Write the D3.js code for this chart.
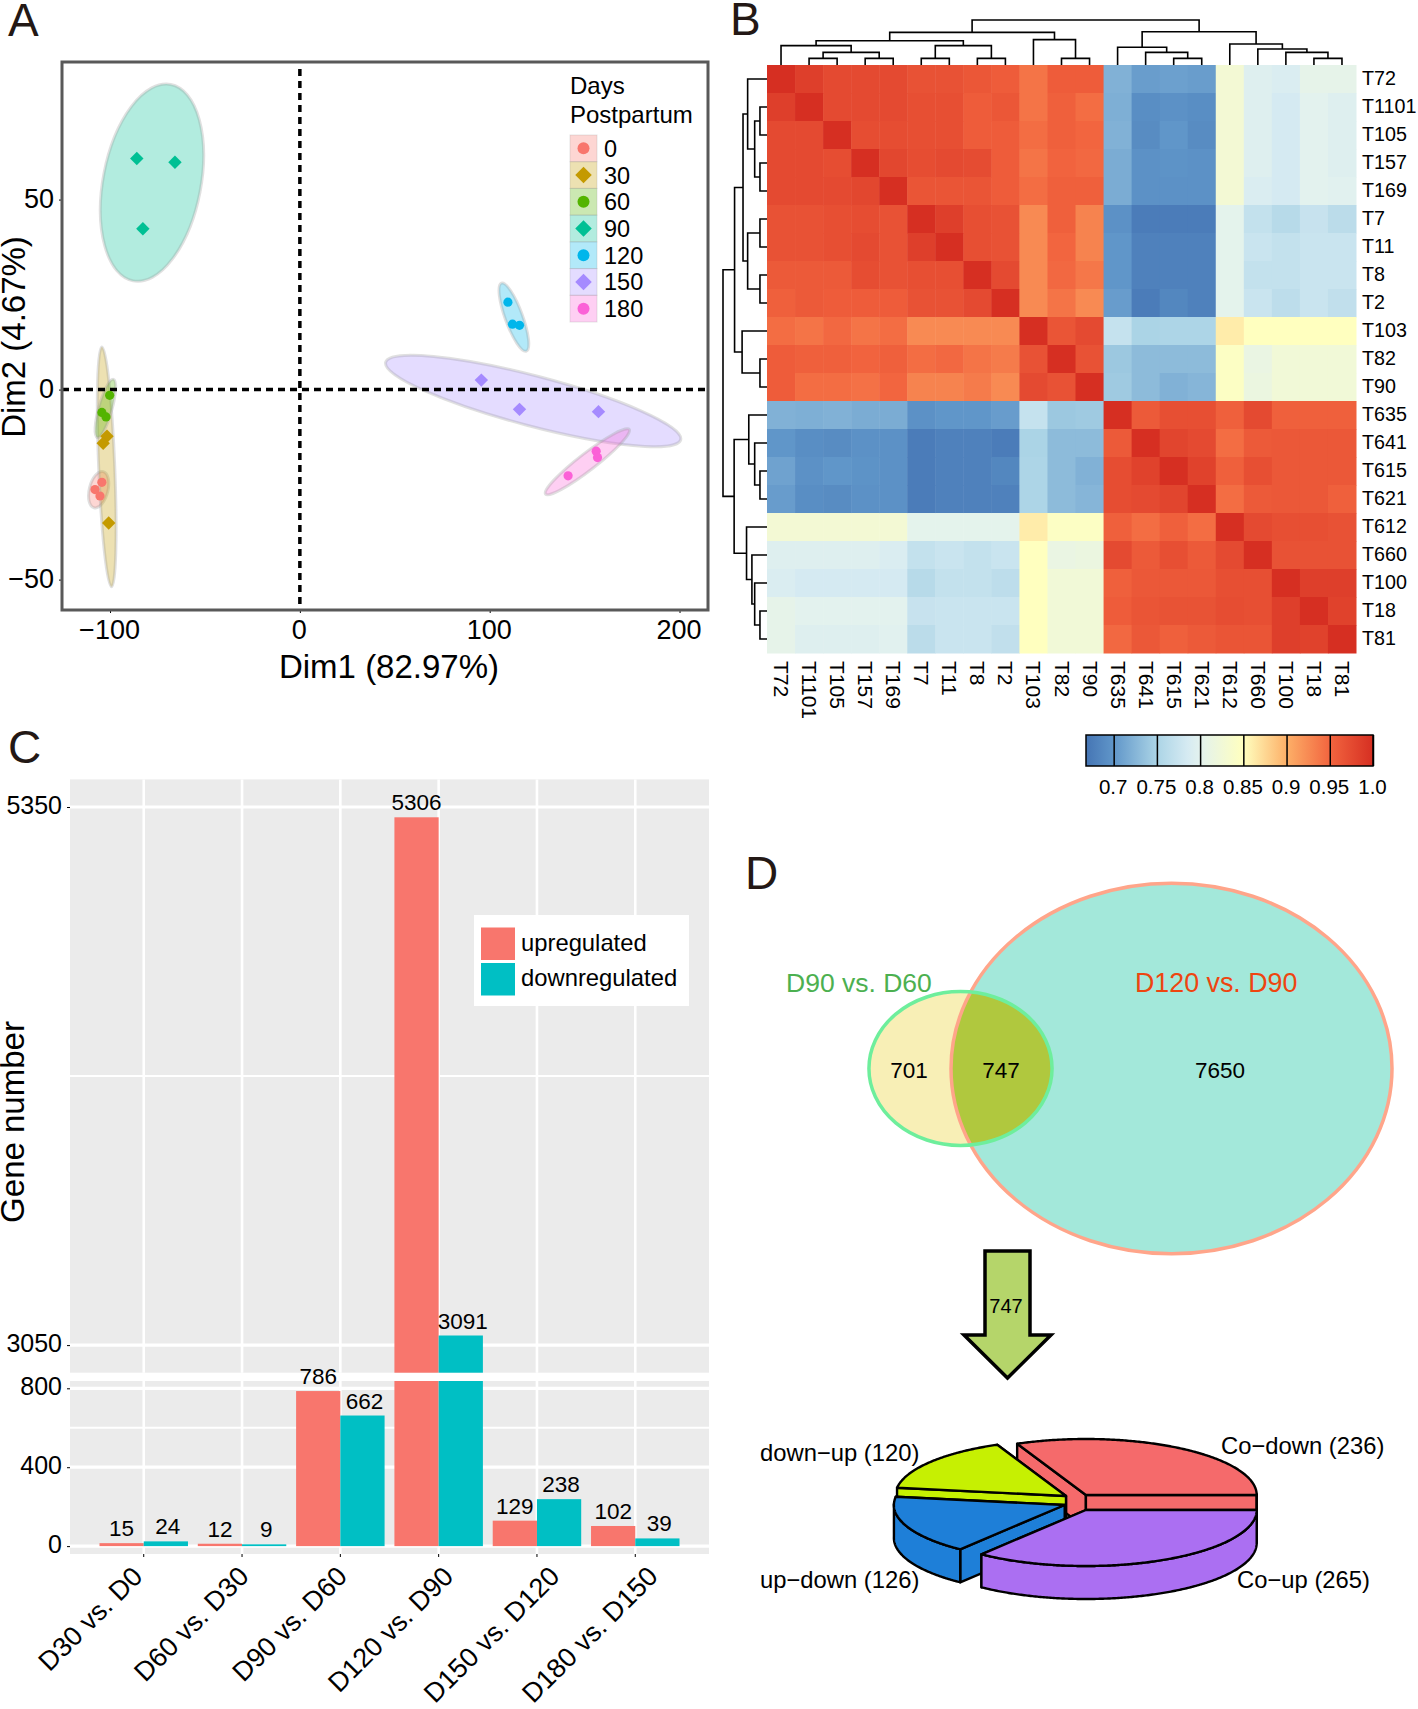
<!DOCTYPE html>
<html>
<head>
<meta charset="utf-8">
<title>Panels A-D</title>
<script src="https://cdn.jsdelivr.net/npm/d3@7"></script>
<style>
  body { margin: 0; background: #fff; }
  svg { display: block; font-family: "Liberation Sans", Arial, sans-serif; }
  text { fill: #000; }
  .domain { display: none; }
</style>
</head>
<body>
<svg id="fig" width="1418" height="1709"></svg>
<script>
// panel A
const dayGroups = ['0', '30', '60', '90', '120', '150', '180'];
const dayColors = ['#F8766D', '#C49A00', '#53B400', '#00C094', '#00B6EB', '#A58AFF', '#FB61D7'];
const dayShapes = ['circle', 'diamond', 'circle', 'diamond', 'circle', 'diamond', 'circle'];
const pcaDim1 = [
  [-104.3, -107.9, -105.3],
  [-101.6, -103.6, -100.7],
  [-100.2, -104.3, -102.1],
  [-85.9, -65.8, -82.7],
  [109.6, 112, 115.7],
  [95.6, 115.7, 157.3],
  [141.3, 156.1, 156.8]
];
const pcaDim2 = [
  [-24.4, -26.3, -28],
  [-12.3, -14.1, -35.1],
  [-1.5, -6, -7.2],
  [60.8, 59.8, 42.3],
  [23, 17.2, 16.9],
  [2.5, -5.2, -5.8],
  [-22.7, -16.2, -17.9]
];
// ellipse long axis ends, and short/long ratio
const ellipseDim1 = [[-103.6, -108.4], [-104.3, -99.2], [-98.2, -106.7], [-68, -87.8], [106.2, 119.3], [45.2, 200.6], [173.5, 129.4]];
const ellipseDim2 = [[-21.6, -31.1], [11.2, -51.9], [2.7, -12.6], [80.3, 28.6], [28, 10.1], [7.2, -13.2], [-10.5, -27.5]];
const ellipseRatio = [0.5, 0.067, 0.22, 0.489, 0.24, 0.164, 0.16];

// panel B
const samples = ['T72', 'T1101', 'T105', 'T157', 'T169', 'T7', 'T11', 'T8', 'T2', 'T103', 'T82', 'T90',
  'T635', 'T641', 'T615', 'T621', 'T612', 'T660', 'T100', 'T18', 'T81'];
const corr = [
  [1, .985, .975, .975, .975, .968, .968, .963, .958, .94, .958, .958, .722, .706, .708, .706, .828, .795, .79, .805, .805],
  [.985, 1, .975, .975, .975, .97, .97, .958, .963, .94, .955, .945, .72, .692, .695, .692, .828, .795, .785, .8, .795],
  [.975, .975, 1, .972, .972, .97, .97, .958, .958, .945, .955, .95, .722, .69, .7, .69, .828, .795, .785, .8, .795],
  [.975, .975, .972, 1, .978, .972, .975, .973, .958, .94, .952, .948, .718, .695, .697, .695, .828, .795, .785, .8, .795],
  [.975, .975, .975, .978, 1, .965, .965, .965, .958, .945, .955, .955, .718, .695, .695, .695, .828, .79, .785, .8, .798],
  [.968, .968, .97, .972, .968, 1, .985, .97, .968, .925, .955, .93, .695, .675, .675, .675, .802, .77, .76, .773, .763],
  [.968, .968, .97, .975, .968, .985, 1, .97, .968, .925, .95, .93, .7, .68, .68, .68, .802, .775, .77, .775, .775],
  [.96, .96, .96, .972, .968, .97, .97, 1, .975, .925, .948, .938, .7, .68, .68, .68, .802, .77, .77, .775, .775],
  [.955, .96, .958, .958, .958, .968, .968, .975, 1, .925, .94, .925, .705, .675, .685, .68, .802, .775, .765, .775, .768],
  [.945, .94, .948, .94, .945, .925, .925, .925, .925, 1, .965, .975, .772, .75, .752, .752, .862, .85, .85, .85, .85],
  [.958, .955, .955, .952, .955, .945, .948, .94, .935, .968, 1, .968, .74, .73, .73, .73, .845, .812, .825, .825, .825],
  [.958, .945, .945, .942, .95, .93, .93, .935, .925, .975, .968, 1, .742, .73, .722, .725, .845, .815, .825, .825, .825],
  [.722, .72, .722, .718, .718, .695, .7, .7, .705, .772, .74, .742, 1, .96, .97, .97, .955, .975, .955, .955, .955],
  [.7, .692, .69, .695, .695, .675, .68, .68, .675, .75, .73, .73, .96, 1, .98, .975, .945, .96, .962, .962, .962],
  [.71, .695, .7, .697, .695, .675, .68, .68, .685, .752, .73, .722, .972, .982, 1, .982, .955, .97, .962, .962, .962],
  [.705, .692, .69, .695, .695, .675, .68, .68, .68, .752, .73, .725, .972, .975, .98, 1, .945, .96, .962, .962, .955],
  [.828, .828, .828, .828, .828, .802, .802, .802, .802, .862, .845, .845, .955, .945, .955, .945, 1, .975, .97, .97, .968],
  [.795, .795, .795, .795, .79, .77, .775, .77, .775, .85, .812, .815, .975, .96, .97, .96, .975, 1, .968, .968, .968],
  [.79, .785, .785, .785, .785, .76, .77, .77, .765, .85, .825, .825, .955, .962, .962, .962, .97, .97, 1, .985, .985],
  [.805, .8, .8, .8, .8, .773, .775, .775, .775, .85, .825, .825, .958, .965, .967, .967, .972, .97, .985, 1, .982],
  [.805, .795, .795, .795, .798, .763, .775, .775, .768, .85, .825, .825, .948, .962, .955, .96, .965, .965, .985, .982, 1]
];
// dendrograms: [height, left, right]
const colTree = [1,
  [.726,
    [.54,
      [.43, 'T72', [.281, [.148, 'T1101', 'T105'], [.148, 'T157', 'T169']]],
      [.43, [.148, 'T7', 'T11'], [.148, 'T8', 'T2']]],
    [.563, 'T103', [.148, 'T82', 'T90']]],
  [.74,
    [.393, 'T635', [.281, 'T641', [.148, 'T615', 'T621']]],
    [.467, 'T612', [.356, 'T660', [.281, 'T100', [.148, 'T18', 'T81']]]]]];
const rowTree = [1,
  [.737,
    [.545,
      [.44, 'T72', [.28, [.16, 'T1101', 'T105'], [.16, 'T157', 'T169']]],
      [.44, [.16, 'T7', 'T11'], [.16, 'T8', 'T2']]],
    [.566, 'T103', [.16, 'T82', 'T90']]],
  [.747,
    [.414, 'T635', [.28, 'T641', [.16, 'T615', 'T621']]],
    [.465, 'T612', [.343, 'T660', [.28, 'T100', [.16, 'T18', 'T81']]]]]];
const heatBreaks = [0.668, 0.7, 0.75, 0.785, 0.8, 0.85, 0.9, 0.95, 1];
const heatColors = ['#4575B4', '#6096C9', '#ABD4E6', '#D5EAF2', '#E3F2EE', '#FFFFBF', '#FDB068', '#F2653F', '#D62F22'];
const heatTicks = [0.7, 0.75, 0.8, 0.85, 0.9, 0.95, 1];
const heatTickLabels = ['0.7', '0.75', '0.8', '0.85', '0.9', '0.95', '1.0'];

// panel C
const contrasts = ['D30 vs. D0', 'D60 vs. D30', 'D90 vs. D60', 'D120 vs. D90', 'D150 vs. D120', 'D180 vs. D150'];
const upregulated = [15, 12, 786, 5306, 129, 102];
const downregulated = [24, 9, 662, 3091, 238, 39];
const upperTicks = [3050, 5350];
const upperMinor = [4200];
const lowerTicks = [0, 400, 800];
const lowerMinor = [600];

// panel D
const vennCounts = [701, 747, 7650];
const vennNames = ['D90 vs. D60', 'D120 vs. D90'];
const pieNames = ['Co\u2212up', 'up\u2212down', 'down\u2212up', 'Co\u2212down'];
const pieValues = [265, 126, 120, 236];
const pieColors = ['#AB6FF2', '#1E7FD8', '#C6F002', '#F56A6B'];

const svg = d3.select('#fig');

function panelLabel(txt, x, y) {
  svg.append('text').attr('x', x).attr('y', y)
    .attr('font-size', 46).style('fill', '#231815').text(txt);
}
panelLabel('A', 8, 36);
panelLabel('B', 730, 35);
panelLabel('C', 8, 763);
panelLabel('D', 745, 889);

// ---------- A: PCA ----------
const ax = d3.scaleLinear().domain([-125.3, 215]).range([62, 708]);
const ay = d3.scaleLinear().domain([-58, 86.2]).range([610, 62]);
const gA = svg.append('g');

gA.append('g').attr('transform', 'translate(0,610)')
  .call(d3.axisBottom(ax).tickValues([-100, 0, 100, 200]).tickSize(3).tickPadding(7))
  .call(g => g.selectAll('text').attr('font-size', 27).attr('font-family', 'Liberation Sans').attr('dx', -1));
gA.append('g').attr('transform', 'translate(62,0)')
  .call(d3.axisLeft(ay).tickValues([-50, 0, 50]).tickSize(3).tickPadding(5))
  .call(g => g.selectAll('text').attr('font-size', 27).attr('font-family', 'Liberation Sans').attr('y', -1));

function marker(sel, shape, circleR, diamondSize) {
  if (shape === 'circle') sel.append('circle').attr('r', circleR);
  else sel.append('path').attr('d', d3.symbol(d3.symbolSquare, diamondSize)()).attr('transform', 'rotate(45)');
}

dayGroups.forEach((name, i) => {
  const x1 = ax(ellipseDim1[i][0]), y1 = ay(ellipseDim2[i][0]);
  const x2 = ax(ellipseDim1[i][1]), y2 = ay(ellipseDim2[i][1]);
  const a = Math.hypot(x2 - x1, y2 - y1) / 2;
  const deg = Math.atan2(y2 - y1, x2 - x1) * 180 / Math.PI;
  gA.append('ellipse')
    .attr('transform', `translate(${(x1 + x2) / 2},${(y1 + y2) / 2}) rotate(${deg})`)
    .attr('rx', a).attr('ry', a * ellipseRatio[i])
    .attr('fill', dayColors[i]).attr('fill-opacity', 0.3)
    .attr('stroke', '#999').attr('stroke-opacity', 0.3).attr('stroke-width', 3);
});

// dashed zero lines
gA.append('line').attr('x1', ax.range()[0]).attr('x2', ax.range()[1]).attr('y1', ay(0)).attr('y2', ay(0))
  .attr('stroke', '#000').attr('stroke-width', 3.5).attr('stroke-dasharray', '7,5');
gA.append('line').attr('x1', ax(0)).attr('x2', ax(0)).attr('y1', 69).attr('y2', 610)
  .attr('stroke', '#000').attr('stroke-width', 3.5).attr('stroke-dasharray', '7,5');

dayGroups.forEach((name, i) => {
  pcaDim1[i].forEach((d, j) => {
    const g = gA.append('g').attr('transform', `translate(${ax(d)},${ay(pcaDim2[i][j])})`).attr('fill', dayColors[i]);
    marker(g, dayShapes[i], 4.6, 90);
  });
});

gA.append('rect').attr('x', 62).attr('y', 62).attr('width', 646).attr('height', 548)
  .attr('fill', 'none').attr('stroke', '#595959').attr('stroke-width', 3);

gA.append('text').attr('x', 389).attr('y', 678).attr('text-anchor', 'middle').attr('font-size', 33).text('Dim1 (82.97%)');
gA.append('text').attr('transform', 'translate(25,337) rotate(-90)').attr('text-anchor', 'middle').attr('font-size', 33).text('Dim2 (4.67%)');

gA.append('text').attr('x', 570).attr('y', 94).attr('font-size', 24).text('Days');
gA.append('text').attr('x', 570).attr('y', 123).attr('font-size', 24).text('Postpartum');

const keyY = d3.scaleBand().domain(dayGroups).range([135, 322]);
dayGroups.forEach((name, i) => {
  gA.append('rect').attr('x', 570).attr('y', keyY(name)).attr('width', 27).attr('height', keyY.bandwidth())
    .attr('fill', dayColors[i]).attr('fill-opacity', 0.3)
    .attr('stroke', '#999').attr('stroke-opacity', 0.25).attr('stroke-width', 1);
  const g = gA.append('g').attr('transform', `translate(583.5,${keyY(name) + keyY.bandwidth() / 2})`).attr('fill', dayColors[i]);
  marker(g, dayShapes[i], 6, 136);
  gA.append('text').attr('x', 604).attr('y', keyY(name) + keyY.bandwidth() / 2 + 8.5).attr('font-size', 23.5).text(name);
});

// ---------- B: heatmap ----------
const hx = d3.scaleBand().domain(samples).range([767, 1356]);
const hy = d3.scaleBand().domain(samples).range([65, 653]);
const heatColor = d3.scaleLinear().domain(heatBreaks).range(heatColors).clamp(true);
const gB = svg.append('g');

samples.forEach((rowName, r) => {
  gB.append('g').selectAll('rect')
    .data(corr[r])
    .join('rect')
    .attr('x', (d, c) => hx(samples[c]))
    .attr('y', hy(rowName))
    .attr('width', hx.bandwidth() + 0.5)
    .attr('height', hy.bandwidth() + 0.5)
    .attr('fill', d => heatColor(d));
});

gB.append('g').attr('transform', 'translate(1356,0)')
  .call(d3.axisRight(hy).tickSize(0).tickPadding(6))
  .call(g => g.selectAll('text').attr('font-size', 19.7).attr('font-family', 'Liberation Sans'));
gB.append('g').attr('transform', 'translate(0,653)')
  .call(d3.axisBottom(hx).tickSize(0))
  .call(g => g.selectAll('text').attr('font-size', 21).attr('font-family', 'Liberation Sans')
    .attr('text-anchor', 'start').attr('dy', 0).attr('y', 0)
    .attr('transform', 'translate(-7,8) rotate(90)'));

function drawTree(node, pos, height, link) {
  if (typeof node === 'string') return { p: pos(node), h: 0 };
  const l = drawTree(node[1], pos, height, link);
  const r = drawTree(node[2], pos, height, link);
  link(l, r, node[0]);
  return { p: (l.p + r.p) / 2, h: node[0] };
}
const colH = d3.scaleLinear().domain([0, 1]).range([65, 20]);
const rowH = d3.scaleLinear().domain([0, 1]).range([767, 723]);
const colSegs = [], rowSegs = [];
drawTree(colTree, d => hx(d) + hx.bandwidth() / 2, colH, (l, r, h) => {
  colSegs.push([[l.p, colH(l.h)], [l.p, colH(h)], [r.p, colH(h)], [r.p, colH(r.h)]]);
});
drawTree(rowTree, d => hy(d) + hy.bandwidth() / 2, rowH, (l, r, h) => {
  rowSegs.push([[rowH(l.h), l.p], [rowH(h), l.p], [rowH(h), r.p], [rowH(r.h), r.p]]);
});
gB.append('g').selectAll('path').data(colSegs.concat(rowSegs)).join('path')
  .attr('d', d3.line())
  .attr('fill', 'none').attr('stroke', '#000').attr('stroke-width', 1.6);

// colour key
const keyX = d3.scaleLinear().domain([heatBreaks[0], 1]).range([1086, 1373]);
const grad = svg.append('defs').append('linearGradient').attr('id', 'heatKey');
grad.selectAll('stop').data(heatBreaks).join('stop')
  .attr('offset', d => (keyX(d) - 1086) / 287)
  .attr('stop-color', d => heatColor(d));
gB.append('rect').attr('x', 1086).attr('y', 735).attr('width', 287).attr('height', 31)
  .attr('fill', 'url(#heatKey)').attr('stroke', '#000').attr('stroke-width', 1.5);
gB.append('g').attr('transform', 'translate(0,766)')
  .call(d3.axisBottom(keyX).tickValues(heatTicks).tickFormat((d, i) => heatTickLabels[i]).tickSize(-31).tickPadding(13))
  .call(g => g.selectAll('line').attr('stroke-width', 1.5))
  .call(g => g.selectAll('text').attr('font-size', 20.5).attr('font-family', 'Liberation Sans').attr('dx', -1));

// ---------- C: broken bars ----------
const cx = d3.scaleBand().domain(contrasts).range([70, 709]).paddingInner(0).paddingOuter(0.25);
const dodge = d3.scaleBand().domain(['up', 'down']).range([cx.step() * 0.05, cx.step() * 0.95]);
const upperY = d3.scaleLinear().domain([2932, 5468]).range([1372.7, 779.4]);
const lowerY = d3.scaleLinear().domain([-40, 837]).range([1554, 1381]).clamp(true);
const gC = svg.append('g');
const barColors = { up: '#F8766D', down: '#00BFC4' };
const series = [['up', upregulated], ['down', downregulated]];

[[upperY, upperTicks, upperMinor], [lowerY, lowerTicks, lowerMinor]].forEach(([y, major, minor]) => {
  const g = gC.append('g');
  const [y0, y1] = y.range();
  g.append('rect').attr('x', 70).attr('y', y1).attr('width', 639).attr('height', y0 - y1).attr('fill', '#EBEBEB');
  g.selectAll('.gx').data(contrasts).join('line').attr('class', 'gx')
    .attr('x1', d => cx(d) + cx.bandwidth() / 2).attr('x2', d => cx(d) + cx.bandwidth() / 2)
    .attr('y1', y0).attr('y2', y1).attr('stroke', '#fff').attr('stroke-width', 2.6);
  g.selectAll('.gmin').data(minor).join('line').attr('class', 'gmin')
    .attr('x1', 70).attr('x2', 709).attr('y1', d => y(d)).attr('y2', d => y(d))
    .attr('stroke', '#fff').attr('stroke-width', 2);
  g.selectAll('.gmaj').data(major).join('line').attr('class', 'gmaj')
    .attr('x1', 70).attr('x2', 709).attr('y1', d => y(d)).attr('y2', d => y(d))
    .attr('stroke', '#fff').attr('stroke-width', 3.2);
  g.append('g').attr('transform', 'translate(70,0)')
    .call(d3.axisLeft(y).tickValues(major).tickFormat(d3.format('d')).tickSize(3).tickPadding(5))
    .call(s => s.selectAll('text').attr('font-size', 25).attr('font-family', 'Liberation Sans').attr('y', -2));
});

series.forEach(([key, vals]) => {
  contrasts.forEach((c, i) => {
    const v = vals[i];
    const bx = cx(c) + dodge(key);
    gC.append('rect').attr('x', bx).attr('width', dodge.bandwidth())
      .attr('y', lowerY(v)).attr('height', lowerY(0) - lowerY(v)).attr('fill', barColors[key]);
    if (v > upperY.domain()[0]) {
      gC.append('rect').attr('x', bx).attr('width', dodge.bandwidth())
        .attr('y', upperY(v)).attr('height', upperY.range()[0] - upperY(v)).attr('fill', barColors[key]);
    }
    const labelY = v > upperY.domain()[0] ? upperY(v) : lowerY(v);
    gC.append('text').attr('x', bx + dodge.bandwidth() / 2 + (key === 'down' ? 2 : 0)).attr('y', labelY - 7)
      .attr('text-anchor', 'middle').attr('font-size', 22.5).text(v);
  });
});

// long labels sit further right of their tick, as in the source figure
gC.append('g').attr('transform', 'translate(0,1554)')
  .call(d3.axisBottom(cx).tickSize(3))
  .call(g => g.selectAll('text').attr('font-size', 27).attr('font-family', 'Liberation Sans')
    .attr('text-anchor', 'middle').attr('dy', 0).attr('y', 0)
    .attr('transform', function () {
      const half = this.getComputedTextLength() / 2 * Math.SQRT1_2;
      return `translate(${-47 + (half - 47) * 0.5},${24 + half}) rotate(-45)`;
    }));

gC.append('text').attr('transform', 'translate(24,1122) rotate(-90)').attr('text-anchor', 'middle')
  .attr('font-size', 33).text('Gene number');

gC.append('rect').attr('x', 474).attr('y', 915).attr('width', 215).attr('height', 91).attr('fill', '#fff');
gC.append('rect').attr('x', 481).attr('y', 927.5).attr('width', 34).attr('height', 32.5).attr('fill', barColors.up);
gC.append('rect').attr('x', 481).attr('y', 963).attr('width', 34).attr('height', 32.5).attr('fill', barColors.down);
gC.append('text').attr('x', 521).attr('y', 951).attr('font-size', 23.8).text('upregulated');
gC.append('text').attr('x', 521).attr('y', 986).attr('font-size', 23.8).text('downregulated');

// ---------- D: venn + 3d pie ----------
const gD = svg.append('g');
const setSizes = [vennCounts[0] + vennCounts[1], vennCounts[1] + vennCounts[2]];
const vennR = d3.scaleSqrt().domain([0, setSizes[1]]).range([0, 220.5]);
const squash = 0.84;
const vennX = [960.5, 1171.5];
const vennY = 1068.5;

const defs = svg.select('defs');
defs.append('clipPath').attr('id', 'bigClip').append('ellipse')
  .attr('cx', vennX[1]).attr('cy', vennY).attr('rx', vennR(setSizes[1])).attr('ry', vennR(setSizes[1]) * squash);

const ell = (i) => gD.append('ellipse').attr('cx', vennX[i]).attr('cy', vennY)
  .attr('rx', vennR(setSizes[i])).attr('ry', vennR(setSizes[i]) * squash);
ell(1).attr('fill', '#A3E8DA');
ell(0).attr('fill', '#F8EFB6');
ell(0).attr('fill', '#B0C83E').attr('clip-path', 'url(#bigClip)');
ell(1).attr('fill', 'none').attr('stroke', '#FFA58A').attr('stroke-width', 3.5);
ell(0).attr('fill', 'none').attr('stroke', '#6EEE9C').attr('stroke-width', 3.5);

gD.append('text').attr('x', 786).attr('y', 992).attr('font-size', 26.5).style('fill', '#4CB050').text(vennNames[0]);
gD.append('text').attr('x', 1135).attr('y', 992).attr('font-size', 26.8).style('fill', '#EE4510').text(vennNames[1]);
[909, 1001, 1220].forEach((x, i) => {
  gD.append('text').attr('x', x).attr('y', 1078).attr('text-anchor', 'middle').attr('font-size', 22.5).text(vennCounts[i]);
});

gD.append('path')
  .attr('d', d3.line()([[985, 1251], [1030, 1251], [1030, 1335], [1051, 1335], [1007.5, 1378], [964, 1335], [985, 1335]]) + 'Z')
  .attr('fill', '#B5D56A').attr('stroke', '#000').attr('stroke-width', 3.5).attr('stroke-linejoin', 'miter');
gD.append('text').attr('x', 1006).attr('y', 1313).attr('text-anchor', 'middle').attr('font-size', 20).text(vennCounts[1]);

const slices = d3.pie().sort(null).startAngle(Math.PI / 2).endAngle(Math.PI / 2 + 2 * Math.PI)(pieValues);
const pieRx = 170.8, pieRy = 56, pieDepth = 33;
const pieCenters = [[1085.9, 1510], [1064.7, 1505], [1066, 1496], [1085.9, 1495]];
const rim = (c, a) => [c[0] + pieRx * Math.sin(a), c[1] - pieRy * Math.cos(a)];
const line = d3.line();

[3, 2, 1, 0].forEach(i => {
  const s = slices[i], c = pieCenters[i];
  const angles = d3.range(s.startAngle, s.endAngle, 0.01).concat([s.endAngle]);
  const g = gD.append('g').attr('fill', pieColors[i]).attr('stroke', '#000')
    .attr('stroke-width', 2.4).attr('stroke-linejoin', 'round');
  // cut faces, the one further back first
  const faces = [s.startAngle, s.endAngle].sort((a, b) => rim(c, a)[1] - rim(c, b)[1]);
  faces.forEach(a => {
    const r = rim(c, a);
    g.append('path').attr('d', line([c, r, [r[0], r[1] + pieDepth], [c[0], c[1] + pieDepth]]) + 'Z');
  });
  // outer wall on the front half
  const front = angles.filter(a => Math.cos(a) < 0.02);
  if (front.length) {
    const top = front.map(a => rim(c, a));
    const bot = top.map(p => [p[0], p[1] + pieDepth]).reverse();
    g.append('path').attr('d', line(top.concat(bot)) + 'Z');
  }
  g.append('path').attr('d', line([c].concat(angles.map(a => rim(c, a)))) + 'Z');
});

const pieLabelPos = [[1237, 1588], [760, 1588], [760, 1461], [1221, 1454]];
pieNames.forEach((name, i) => {
  gD.append('text').attr('x', pieLabelPos[i][0]).attr('y', pieLabelPos[i][1]).attr('font-size', 23.8)
    .text(`${name} (${pieValues[i]})`);
});
</script>
</body>
</html>
